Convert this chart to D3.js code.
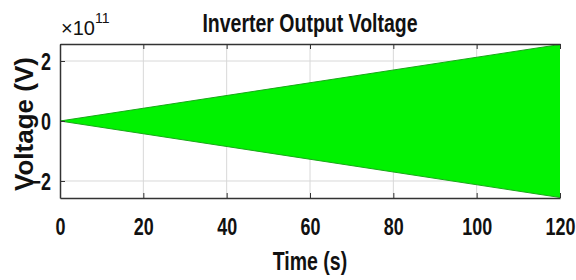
<!DOCTYPE html>
<html>
<head>
<meta charset="utf-8">
<script src="https://cdn.jsdelivr.net/npm/d3@7"></script>
<style>
  body { margin: 0; background: #fff; }
  svg { display: block; }
  text { font-family: "Liberation Sans", Arial, sans-serif; font-weight: bold; fill: #111; }
</style>
</head>
<body>
<svg id="chart" width="576" height="280"></svg>
<script>
// envelope of the inverter output (V) over time (s)
const time = [0, 120];
const upper = [0, 2.55e11];
const lower = [0, -2.55e11];
const xTicks = [0, 20, 40, 60, 80, 100, 120];
const yTicks = [-2e11, 0, 2e11];

const width = 576;
const height = 280;
const margin = { top: 44, right: 16, bottom: 82, left: 60 };
const squeeze = 0.78; // the original uses a narrow face

const svg = d3.select('#chart');

const x = d3.scaleLinear()
    .domain([0, 120])
    .range([margin.left, width - margin.right]);
const y = d3.scaleLinear()
    .domain([-2.567e11, 2.567e11])
    .range([height - margin.bottom, margin.top]);

const pts = time.map((t, i) => ({ t, hi: upper[i], lo: lower[i] }));

/* grid */
svg.append('g')
    .selectAll('line')
    .data(xTicks.slice(1, -1)).enter()
    .append('line')
    .attr('x1', d => x(d)).attr('x2', d => x(d))
    .attr('y1', y.range()[1]).attr('y2', y.range()[0])
    .attr('stroke', '#d8d8d8');
svg.append('g')
    .selectAll('line')
    .data(yTicks).enter()
    .append('line')
    .attr('x1', x.range()[0]).attr('x2', x.range()[1])
    .attr('y1', d => y(d)).attr('y2', d => y(d))
    .attr('stroke', '#d8d8d8');

/* signal */
const area = d3.area()
    .x(d => x(d.t))
    .y0(d => y(d.lo))
    .y1(d => y(d.hi));
svg.append('path')
    .datum(pts)
    .attr('d', area)
    .attr('fill', '#00f200');
const edge = key => d3.line().x(d => x(d.t)).y(d => y(d[key]));
['hi', 'lo'].forEach(k => {
    svg.append('path')
        .datum(pts)
        .attr('d', edge(k))
        .attr('fill', 'none')
        .attr('stroke', '#18a818')
        .attr('stroke-width', 1);
});

/* axes */
const xAxis = d3.axisBottom(x).tickValues(xTicks).tickSizeInner(-5).tickSizeOuter(0);
const gx = svg.append('g')
    .attr('transform', `translate(0, ${y.range()[0]})`)
    .call(xAxis);
gx.selectAll('text')
    .attr('y', 37).attr('dy', 0)
    .attr('transform', `scale(${squeeze}, 1)`)
    .style('font-size', '23px');

const xTop = d3.axisTop(x).tickValues(xTicks).tickSizeInner(-5).tickSizeOuter(0).tickFormat('');
svg.append('g')
    .attr('transform', `translate(0, ${y.range()[1]})`)
    .call(xTop);

const yAxis = d3.axisLeft(y).tickValues(yTicks).tickSizeInner(-5).tickSizeOuter(0)
    .tickFormat(d => d3.format('d')(d / 1e11));
const gy = svg.append('g')
    .attr('transform', `translate(${x.range()[0]}, 0)`)
    .call(yAxis);
gy.selectAll('text')
    .attr('x', -9 / squeeze)
    .attr('dy', '0.36em')
    .attr('transform', `scale(${squeeze}, 1)`)
    .style('font-size', '23px');

svg.selectAll('.domain').attr('stroke', '#333').attr('stroke-width', 1.5);
svg.selectAll('.tick line').attr('stroke', '#333');

/* labels */
const narrowLabel = (cx, cy, size, str) => svg.append('g')
    .attr('transform', `translate(${cx}, ${cy}) scale(0.75, 1)`)
    .append('text')
    .attr('text-anchor', 'middle')
    .style('font-size', size + 'px')
    .text(str);

narrowLabel(310, 32, 26, 'Inverter Output Voltage');
narrowLabel(310, 270, 26, 'Time (s)');

svg.append('text')
    .attr('transform', 'translate(33, 124) rotate(-90)')
    .attr('text-anchor', 'middle')
    .style('font-size', '26px')
    .text('Voltage (V)');

const exp = svg.append('text')
    .attr('x', 61).attr('y', 35)
    .style('font-weight', 'normal')
    .style('font-size', '20px');
exp.append('tspan').text('×10');
exp.append('tspan').attr('dy', -12).style('font-size', '14px').text('11');
</script>
</body>
</html>
